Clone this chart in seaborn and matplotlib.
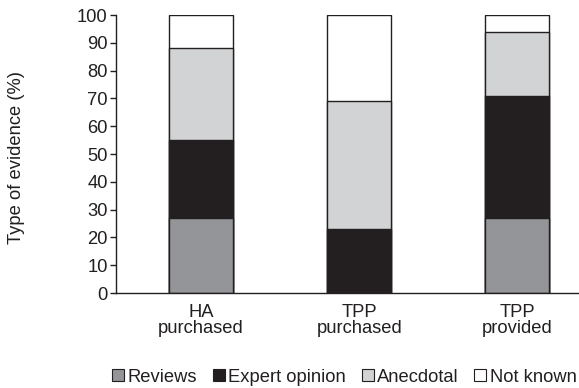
import matplotlib
matplotlib.use("Agg")
import matplotlib.pyplot as plt
from matplotlib.patches import Patch
import numpy as np
import pandas as pd
import seaborn as sns

# data (percent of evidence per group)
groups = ["HA\npurchased", "TPP\npurchased", "TPP\nprovided"]
series = ["Reviews", "Expert opinion", "Anecdotal", "Not known"]
reviews = [27, 0, 27]
expert = [28, 23, 44]
anecdotal = [33, 46, 23]
not_known = [12, 31, 6]

colors = ["#939598", "#231f20", "#d1d3d4", "#ffffff"]
edge = "#231f20"
fs = 13.2

sns.set_style("white")
plt.rcParams["font.family"] = ["Liberation Sans", "DejaVu Sans"]

df = pd.DataFrame({"group": groups, "Reviews": reviews, "Expert opinion": expert,
                   "Anecdotal": anecdotal, "Not known": not_known})
cum = df[series].cumsum(axis=1)

fig = plt.figure(figsize=(5.79, 3.88), dpi=100)
ax = fig.add_axes([0.2003, 0.2448, 0.798, 0.7165])

# draw tallest stack first so the lower segments sit on top
for name, col in reversed(list(zip(series, colors))):
    sns.barplot(x=df["group"], y=cum[name], color=col, width=0.405,
                edgecolor=edge, linewidth=1.0, saturation=1, ax=ax)

ax.set_xlim(-0.538, 2.383)
ax.set_ylim(0, 100)
ax.set_yticks(np.arange(0, 101, 10))
ax.set_xlabel("")
ax.set_ylabel("Type of evidence (%)", fontsize=fs, color="#231f20")
ax.yaxis.set_label_coords(-0.197, 0.489)
for s in ["top", "right"]:
    ax.spines[s].set_visible(False)
for s in ["left", "bottom"]:
    ax.spines[s].set_color(edge)
    ax.spines[s].set_linewidth(1.0)
ax.tick_params(axis="y", direction="out", length=4, width=1, color=edge,
               labelsize=fs, labelcolor="#231f20", pad=2, left=True)
ax.tick_params(axis="x", length=0, labelsize=fs, labelcolor="#231f20", pad=8)
for t in ax.get_xticklabels():
    t.set_linespacing(0.95)

handles = [Patch(facecolor=c, edgecolor=edge, linewidth=0.8) for c in colors]
fig.legend(handles, series, loc="center", bbox_to_anchor=(344.5 / 579, 1 - 377 / 388),
           ncol=4, frameon=False, fontsize=fs, handlelength=0.65, handleheight=0.65,
           handletextpad=0.2, columnspacing=0.85, labelcolor="#231f20",
           borderpad=0, borderaxespad=0)

fig.savefig("out.png", dpi=100)
